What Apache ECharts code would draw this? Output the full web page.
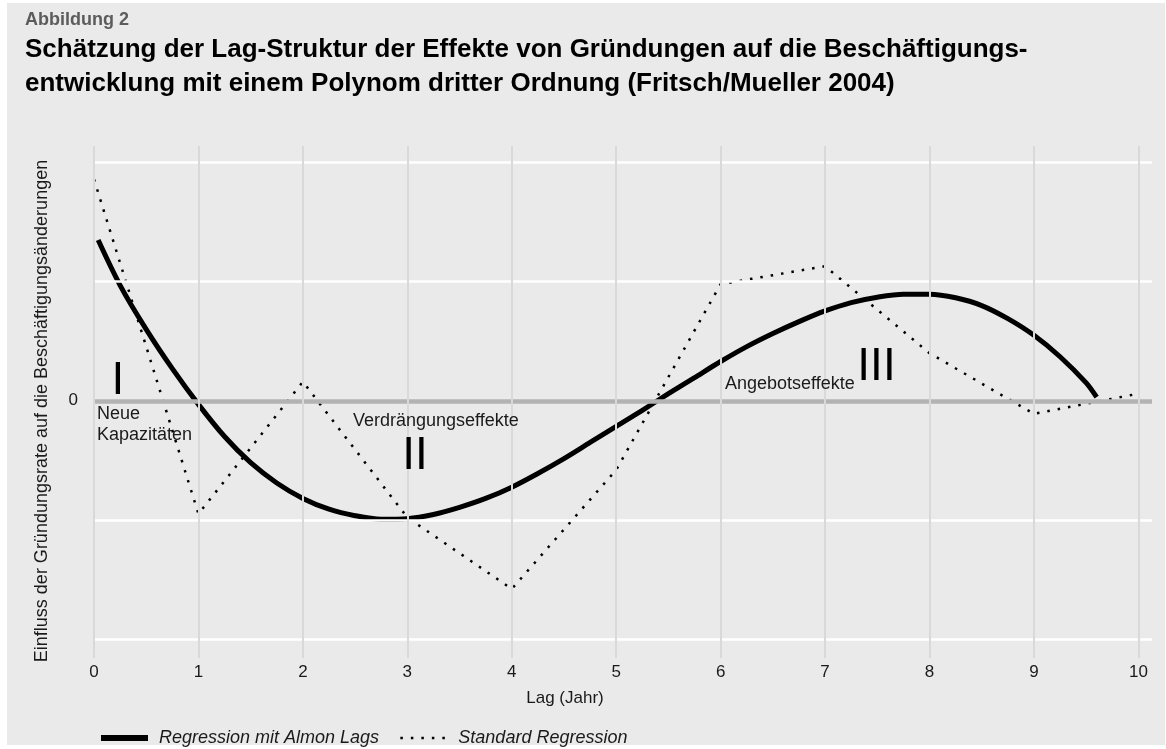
<!DOCTYPE html>
<html>
<head>
<meta charset="utf-8">
<script src="https://cdn.jsdelivr.net/npm/echarts@6/dist/echarts.min.js"></script>
<style>
  html, body { margin: 0; padding: 0; background: #fff; }
  #chart { width: 1166px; height: 749px; }
</style>
</head>
<body>
<div id="chart"></div>
<script>
  // Lag in Jahren (x) und geschaetzte Effekte (y)
  var lagYears = [0, 1, 2, 3, 4, 5, 6, 7, 8, 9, 10];
  var standardValues = [1.86, -0.95, 0.16, -0.98, -1.58, -0.58, 0.98, 1.13, 0.40, -0.11, 0.06];

  var almonLags = [0.04, 0.25, 0.5, 0.75, 1, 1.25, 1.5, 1.75, 2, 2.25, 2.5, 2.75, 3, 3.25, 3.5, 3.75, 4, 4.25, 4.5, 4.75,
                   5, 5.25, 5.5, 5.75, 6, 6.25, 6.5, 6.75, 7, 7.25, 7.5, 7.75, 8, 8.25, 8.5, 8.75, 9, 9.25, 9.5, 9.6];
  var almonValues = [1.35, 0.97, 0.60, 0.27, -0.03, -0.30, -0.52, -0.69, -0.82, -0.91, -0.965, -0.995, -0.99, -0.955, -0.895, -0.82, -0.725, -0.61, -0.485, -0.35,
                     -0.215, -0.08, 0.06, 0.195, 0.33, 0.455, 0.565, 0.665, 0.755, 0.825, 0.87, 0.895, 0.895, 0.865, 0.80, 0.69, 0.55, 0.37, 0.15, 0.03];

  var yGridValues = [-2, -1, 1, 2];
  var yLabelValues = [0];
  var xGridValues = lagYears;

  var FONT = '"Liberation Sans", Arial, sans-serif';

  var chart = echarts.init(document.getElementById('chart'));

  function zip(xs, ys) {
    return xs.map(function(x, i) { return [x, ys[i]]; });
  }

  var gridLines = [];
  yGridValues.forEach(function(v) {
    gridLines.push({ yAxis: v, lineStyle: { color: '#ffffff', width: 2.5, type: 'solid' } });
  });
  gridLines.push({ yAxis: 0, lineStyle: { color: '#b3b3b3', width: 4.5, type: 'solid' } });
  xGridValues.forEach(function(v) {
    gridLines.push({ xAxis: v, lineStyle: { color: '#d9d9d9', width: 2, type: 'solid' } });
  });

  var option = {
    backgroundColor: '#ffffff',
    animation: false,
    title: [{
      text: 'Abbildung 2',
      left: 20,
      top: 6,
      textStyle: { fontFamily: FONT, fontSize: 18, fontWeight: 'bold', color: '#5c5c5c' }
    }, {
      text: 'Schätzung der Lag-Struktur der Effekte von Gründungen auf die Beschäftigungs-\nentwicklung mit einem Polynom dritter Ordnung (Fritsch/Mueller 2004)',
      left: 20,
      top: 28,
      textStyle: { fontFamily: FONT, fontSize: 26, fontWeight: 'bold', color: '#000', lineHeight: 34 }
    }],
    legend: {
      left: 93,
      top: 724,
      itemWidth: 47,
      itemHeight: 14,
      itemGap: 20,
      itemStyle: { opacity: 0 },
      textStyle: { fontFamily: FONT, fontSize: 18, fontStyle: 'italic', color: '#1a1a1a', padding: [0, 0, 0, 6] },
      data: [
        { name: 'Regression mit Almon Lags', lineStyle: { color: '#000', width: 6 } },
        { name: 'Standard Regression', lineStyle: { color: '#000', width: 2.5, type: [2.5, 8] } }
      ]
    },
    grid: { left: 94, right: 14, top: 146, bottom: 91 },
    xAxis: {
      type: 'value',
      min: 0,
      max: 10.13,
      interval: 1,
      axisLine: { show: false },
      axisTick: { show: false },
      splitLine: { show: false },
      axisLabel: { margin: 6, fontFamily: FONT, fontSize: 17, color: '#1a1a1a', showMaxLabel: false },
      name: 'Lag (Jahr)',
      nameLocation: 'middle',
      nameGap: 32,
      nameTextStyle: { fontFamily: FONT, fontSize: 17, color: '#1a1a1a', padding: [0, 116, 0, 0] }
    },
    yAxis: {
      type: 'value',
      min: -2.16,
      max: 2.14,
      axisLine: { show: false },
      axisTick: { show: false },
      splitLine: { show: false },
      axisLabel: { customValues: yLabelValues, margin: 16, fontFamily: FONT, fontSize: 17, color: '#1a1a1a' },
      name: 'Einfluss der Gründungsrate auf die Beschäftigungsänderungen',
      nameLocation: 'middle',
      nameGap: 43,
      nameTextStyle: { fontFamily: FONT, fontSize: 18, color: '#1a1a1a', padding: [0, 18, 0, 0] }
    },
    graphic: [{
      type: 'rect',
      z: -100,
      silent: true,
      shape: { x: 7, y: 3, width: 1158, height: 742 },
      style: { fill: '#eaeaea' }
    }, {
      type: 'text', x: 118, y: 381, z: 50,
      style: { text: 'I', font: '46px ' + FONT, fill: '#000', align: 'center', verticalAlign: 'middle' }
    }, {
      type: 'text', x: 415, y: 456, z: 50,
      style: { text: 'II', font: '46px ' + FONT, fill: '#000', align: 'center', verticalAlign: 'middle' }
    }, {
      type: 'text', x: 876.5, y: 367, z: 50,
      style: { text: 'III', font: '46px ' + FONT, fill: '#000', align: 'center', verticalAlign: 'middle' }
    }, {
      type: 'text', x: 97, y: 414.5, z: 50,
      style: { text: 'Neue', font: '18px ' + FONT, fill: '#1a1a1a', align: 'left', verticalAlign: 'middle' }
    }, {
      type: 'text', x: 97, y: 435.5, z: 50,
      style: { text: 'Kapazitäten', font: '18px ' + FONT, fill: '#1a1a1a', align: 'left', verticalAlign: 'middle' }
    }, {
      type: 'text', x: 353, y: 421.5, z: 50,
      style: { text: 'Verdrängungseffekte', font: '18px ' + FONT, fill: '#1a1a1a', align: 'left', verticalAlign: 'middle' }
    }, {
      type: 'text', x: 725, y: 384.5, z: 50,
      style: { text: 'Angebotseffekte', font: '18px ' + FONT, fill: '#1a1a1a', align: 'left', verticalAlign: 'middle' }
    }],
    series: [{
      // Gitterlinien
      type: 'line',
      data: [],
      z: 1,
      silent: true,
      markLine: {
        silent: true,
        symbol: ['none', 'none'],
        label: { show: false },
        animation: false,
        data: gridLines
      }
    }, {
      name: 'Regression mit Almon Lags',
      type: 'line',
      z: 3,
      smooth: 0.3,
      symbol: 'none',
      silent: true,
      lineStyle: { color: '#000', width: 5, join: 'round' },
      itemStyle: { color: '#000' },
      data: zip(almonLags, almonValues)
    }, {
      name: 'Standard Regression',
      type: 'line',
      z: 3,
      symbol: 'none',
      silent: true,
      lineStyle: { color: '#000', width: 2.5, type: [2.5, 8] },
      itemStyle: { color: '#000' },
      data: zip(lagYears, standardValues)
    }]
  };

  chart.setOption(option);
</script>
</body>
</html>
